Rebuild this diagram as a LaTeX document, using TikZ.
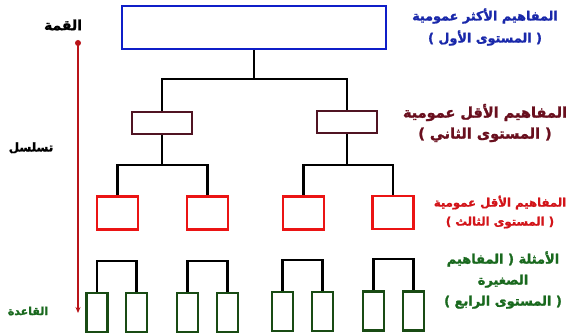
\documentclass[tikz,border=0pt]{standalone}
\usepackage{fontspec}
\newfontfamily\arabicfont[Script=Arabic, BoldFont={DejaVu Sans Bold}, BoldFeatures={FakeBold=1.5}]{DejaVu Sans}
\TeXXeTstate=1
\usetikzlibrary{arrows.meta}
\definecolor{boxblue}{RGB}{15,30,200}
\definecolor{txtblue}{RGB}{25,40,170}
\definecolor{boxmaroon}{RGB}{80,20,35}
\definecolor{txtmaroon}{RGB}{105,15,30}
\definecolor{boxred}{RGB}{235,20,20}
\definecolor{txtred}{RGB}{210,20,25}
\definecolor{boxgreen}{RGB}{25,75,20}
\definecolor{txtgreen}{RGB}{25,105,30}
\definecolor{arrowred}{RGB}{185,20,25}
\tikzset{
  bx/.style={draw, line width=2.4pt, inner sep=0pt, fill=white},
  topbox/.style={bx, draw=boxblue, minimum width=264pt, minimum height=43pt},
  lvltwo/.style={bx, draw=boxmaroon, minimum width=60pt, minimum height=22pt},
  lvlthree/.style={bx, draw=boxred, minimum width=41pt, minimum height=33pt},
  lvlfour/.style={bx, draw=boxgreen, minimum width=21pt, minimum height=39pt},
  conn/.style={line width=2.6pt, black},
  lbl/.style={align=center, inner sep=0pt},
  side/.style={inner sep=0pt, text=black}
}
\newcommand{\arb}[2]{\arabicfont\bfseries\fontsize{#1}{#2}\selectfont}
\begin{document}
\begin{tikzpicture}[x=1pt,y=-1pt]
\useasboundingbox (0,0) rectangle (569,336);
% boxes
\node[topbox] (top) at (254,27.5) {};
\node[lvltwo] (m1) at (162,123) {};
\node[lvltwo] (m2) at (347,122) {};
\node[lvlthree] (r1) at (117.5,213) {};
\node[lvlthree] (r2) at (207.5,213) {};
\node[lvlthree] (r3) at (303.5,213) {};
\node[lvlthree] (r4) at (393,212.5) {};
\node[lvlfour] (g1) at (97,312.5) {};
\node[lvlfour] (g2) at (136.5,312.5) {};
\node[lvlfour] (g3) at (187.5,312.5) {};
\node[lvlfour] (g4) at (227.5,312.5) {};
\node[lvlfour] (g5) at (282.5,311.5) {};
\node[lvlfour] (g6) at (322.5,311.5) {};
\node[lvlfour] (g7) at (373.5,311) {};
\node[lvlfour] (g8) at (413.5,311) {};
% junctions
\coordinate (j1) at (254,79);
\coordinate (j2) at (162,165);
\coordinate (j3) at (347,165);
\coordinate (t1) at (117,261);
\coordinate (t2) at (207,261);
\coordinate (t3) at (302,260);
\coordinate (t4) at (393,259);
% connectors
\draw[conn] (top.south) -- (j1);
\draw[conn] (j1) -| (m1.north);
\draw[conn] (j1) -| (m2.north);
\draw[conn] (m1.south) -- (j2);
\draw[conn] (j2) -| (r1.north);
\draw[conn] (j2) -| (r2.north);
\draw[conn] (m2.south) -- (j3);
\draw[conn] (j3) -| (r3.north);
\draw[conn] (j3) -| (r4.north);
\draw[conn] (g1.north) |- (t1) -| (g2.north);
\draw[conn] (g3.north) |- (t2) -| (g4.north);
\draw[conn] (g5.north) |- (t3) -| (g6.north);
\draw[conn] (g7.north) |- (t4) -| (g8.north);
% hierarchy arrow
\coordinate (atop) at (78,43);
\coordinate (abot) at (78,313);
\draw[arrowred, line width=1.6pt, -{Stealth[length=6pt,width=5pt]}] (atop) -- (abot);
\fill[arrowred] (atop) circle (3pt);
% side labels
\node[side, font=\arb{14}{16}] (lq) at (63,25) {\beginR القمة\endR};
\node[side, font=\arb{12}{14}] (lt) at (31,148) {\beginR تسلسل\endR};
\node[side, font=\arb{11}{13}, text=txtgreen] (lb) at (28,311) {\beginR القاعدة\endR};
% level labels
\node[lbl, font=\arb{12.8}{22}, text=txtblue] (d1) at (485,27) {\beginR المفاهيم الأكثر عمومية\endR\\ \beginR ( المستوى الأول )\endR};
\node[lbl, font=\arb{14.5}{21}, text=txtmaroon] (d2) at (485,123) {\beginR المفاهيم الأقل عمومية\endR\\ \beginR ( المستوى الثاني )\endR};
\node[lbl, font=\arb{11.7}{19}, text=txtred] (d3) at (500,212) {\beginR المفاهيم الأقل عمومية\endR\\ \beginR ( المستوى الثالث )\endR};
\node[lbl, font=\arb{13}{21}, text=txtgreen] (d4) at (503,280) {\beginR الأمثلة ( المفاهيم\endR\\ \beginR الصغيرة\endR\\ \beginR ( المستوى الرابع )\endR};
\end{tikzpicture}
\end{document}
